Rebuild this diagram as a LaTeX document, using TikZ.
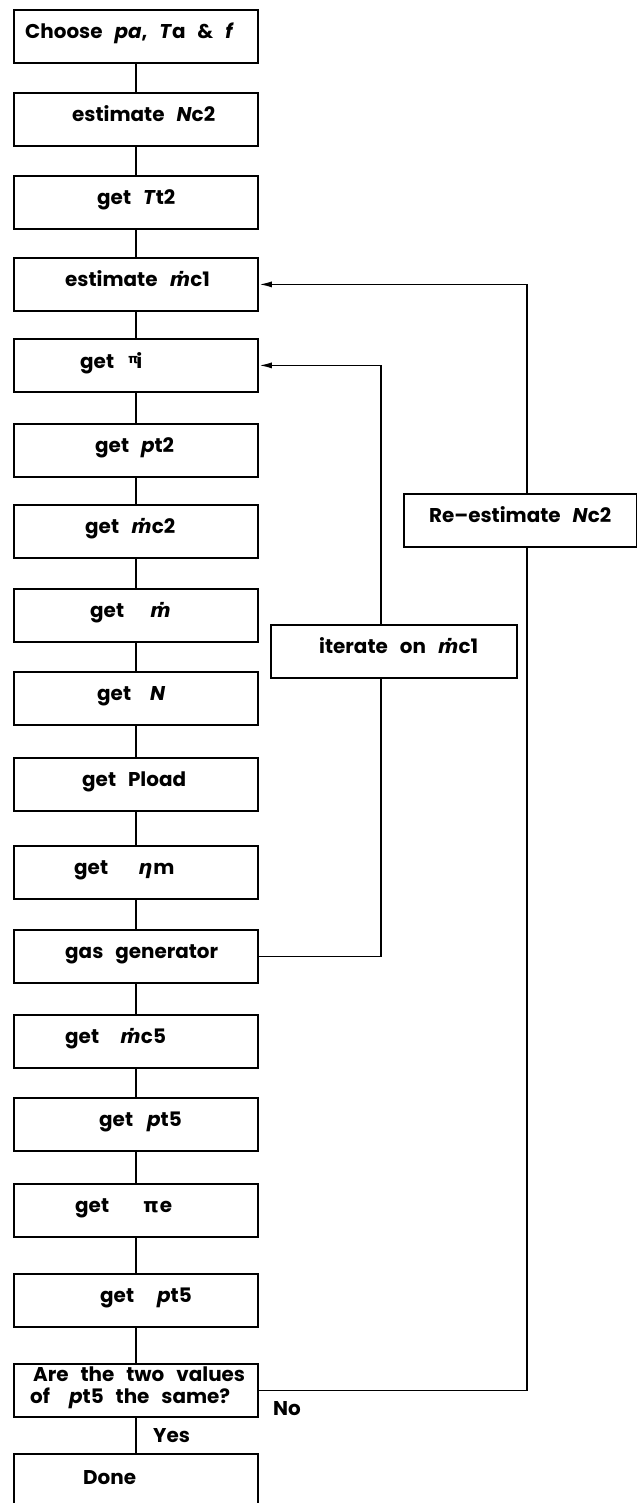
\documentclass[tikz,border=0pt]{standalone}
\usepackage{fontspec}
\setmainfont{Poppins}
\newfontfamily\gk{DejaVu Sans}
\usetikzlibrary{arrows.meta}

% m with a dot above (mass flow)
\newcommand\mdt{{\gk\bfseries\itshape ṁ}}
% fixed gap between the two parts of a label
\newcommand\gap[2]{\makebox[#1bp][l]{#2}}
% wide word spacing of the labels
\newcommand\widespace{\spaceskip=0.6em plus 0.1em\relax}

\begin{document}
\begin{tikzpicture}[x=1bp,y=-1bp,
  box/.style={draw,line width=1.8bp,minimum width=244bp,minimum height=53bp,
    inner sep=0pt,anchor=north west},
  sidebox/.style={draw,line width=1.8bp,minimum height=53bp,inner sep=0pt,anchor=north west},
  lbl/.style={inner sep=0pt,anchor=mid west,
    font=\fontsize{20}{23}\selectfont\bfseries\widespace},
  link/.style={line width=1.8bp},
  back/.style={line width=1.8bp,-{Latex[length=13bp,width=6bp]}}]

\fill[white] (0,0) rectangle (637,1503);
\useasboundingbox (0,0) rectangle (637,1503);

% main column of steps
\node[box] (b1)  at (13,9)    {};
\node[box] (b2)  at (13,92)   {};
\node[box] (b3)  at (13,175)  {};
\node[box] (b4)  at (13,257)  {};
\node[box] (b5)  at (13,338)  {};
\node[box] (b6)  at (13,423)  {};
\node[box] (b7)  at (13,504)  {};
\node[box] (b8)  at (13,588)  {};
\node[box] (b9)  at (13,671)  {};
\node[box] (b10) at (13,757)  {};
\node[box] (b11) at (13,845)  {};
\node[box] (b12) at (13,929)  {};
\node[box] (b13) at (13,1014) {};
\node[box] (b14) at (13,1097) {};
\node[box] (b15) at (13,1183) {};
\node[box] (b16) at (13,1273) {};
\node[box] (q)   at (13,1363) {};
\node[box,minimum height=70bp] (done) at (13,1453) {};

% loop boxes
\node[sidebox,minimum width=246bp] (it) at (270,624) {};
\node[sidebox,minimum width=233bp] (re) at (403,493) {};

% labels
\node[lbl] (t1)  at (25,36)   {Choose \textit{pa}, \textit{T}a \& \textit{f}};
\node[lbl] (t2)  at (72,119)  {estimate \textit{N}c2};
\node[lbl] (t3)  at (97,202)  {get \textit{T}t2};
\node[lbl] (t4)  at (65,284)  {estimate \mdt c1};
\node[lbl] (t5)  at (80,366)  {\gap{48}{get}\raisebox{5bp}{\gk\bfseries\fontsize{13}{13}\selectfont π}\kern-2bp i};
\node[lbl] (t6)  at (95,450)  {get \textit{p}t2};
\node[lbl] (t7)  at (85,531)  {get \mdt c2};
\node[lbl] (t8)  at (90,615)  {\gap{60}{get}\mdt};
\node[lbl] (t9)  at (97,698)  {\gap{53}{get}\textit{N}};
\node[lbl] (t10) at (82,784)  {get Pload};
\node[lbl] (t11) at (74,872)  {\gap{64}{get}{\gk\bfseries\itshape η}\kern1bp m};
\node[lbl] (t12) at (65,956)  {gas generator};
\node[lbl] (t13) at (65,1041) {\gap{55}{get}\mdt c5};
\node[lbl] (t14) at (99,1124) {\gap{48}{get}\textit{p}t5};
\node[lbl] (t15) at (75,1210) {\gap{68}{get}{\gk\bfseries π}\kern1bp e};
\node[lbl] (t16) at (100,1300) {\gap{57}{get}\textit{p}t5};
\node[lbl] (t17a) at (33,1379) {Are the two values};
\node[lbl] (t17b) at (30,1401) {\gap{39}{of}\textit{p}t5 the same?};
\node[lbl] (t18) at (83,1482) {Done};
\node[lbl] (tit) at (319,651) {iterate on \mdt c1};
\node[lbl] (tre) at (429,520) {Re--estimate \textit{N}c2};
\node[lbl] (yes) at (153,1440) {Yes};
\node[lbl] (no)  at (273,1413) {No};

% forward links
\foreach \a/\b in {b1/b2,b2/b3,b3/b4,b4/b5,b5/b6,b6/b7,b7/b8,b8/b9,b9/b10,
                   b10/b11,b11/b12,b12/b13,b13/b14,b14/b15,b15/b16,b16/q,q/done}
  \draw[link] (\a.south) -- (\b.north);

% inner loop: gas generator back to the inlet pressure ratio
\coordinate (mx) at (381,0);
\draw[link] (b12.east) -- (b12.east -| mx) -- (mx |- it.south);
\draw[back] (mx |- it.north) -- (mx |- b5.east) -- (b5.east);

% outer loop: exit pressure check back to the corrected flow estimate
\coordinate (rx) at (527,0);
\draw[link] (q.east) -- (q.east -| rx) -- (rx |- re.south);
\draw[back] (rx |- re.north) -- (rx |- b4.east) -- (b4.east);
\end{tikzpicture}
\end{document}
